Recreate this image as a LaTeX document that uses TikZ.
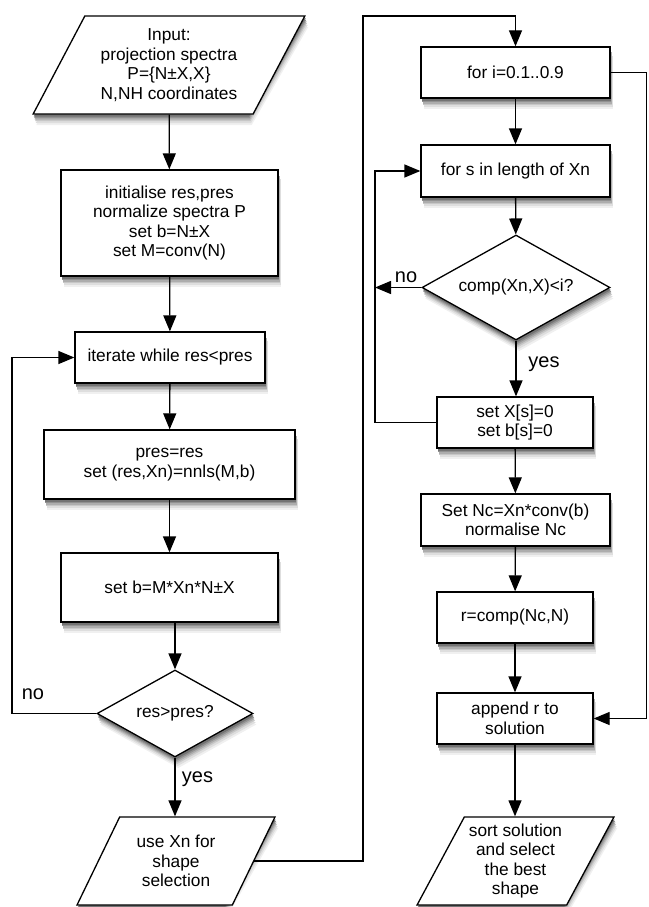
\documentclass[tikz,border=0pt]{standalone}
\usepackage{fontspec}
\setmainfont{Liberation Sans}
\usetikzlibrary{arrows.meta,shapes.geometric}

% one shadow layer: cx, cy, w, h, offset, grey percentage
\newcommand\Rsh[6]{\fill[black!#6] ({#1-#3/2+0.3*#5},{#2-#4/2+#5}) rectangle ({#1+#3/2+0.3*#5},{#2+#4/2+#5});}
\newcommand\Psh[6]{\fill[black!#6] ({#1-#3/2+0.3*#5},{#2+#4/2+#5}) -- ({#1+#3/2-0.5774*#4+0.3*#5},{#2+#4/2+#5}) -- ({#1+#3/2+0.3*#5},{#2-#4/2+#5}) -- ({#1-#3/2+0.5774*#4+0.3*#5},{#2-#4/2+#5}) -- cycle;}
\newcommand\Dsh[6]{\fill[black!#6] ({#1+0.3*#5},{#2-#4/2+#5}) -- ({#1+#3/2+0.3*#5},{#2+#5}) -- ({#1+0.3*#5},{#2+#4/2+#5}) -- ({#1-#3/2+0.3*#5},{#2+#5}) -- cycle;}
\newcommand\Rshad[4]{\Rsh{#1}{#2}{#3}{#4}{11}{6}\Rsh{#1}{#2}{#3}{#4}{9}{13}\Rsh{#1}{#2}{#3}{#4}{7}{22}\Rsh{#1}{#2}{#3}{#4}{5.5}{32}\Rsh{#1}{#2}{#3}{#4}{4}{43}\Rsh{#1}{#2}{#3}{#4}{2.5}{55}}
\newcommand\Pshad[4]{\Psh{#1}{#2}{#3}{#4}{11}{6}\Psh{#1}{#2}{#3}{#4}{9}{13}\Psh{#1}{#2}{#3}{#4}{7}{22}\Psh{#1}{#2}{#3}{#4}{5.5}{32}\Psh{#1}{#2}{#3}{#4}{4}{43}\Psh{#1}{#2}{#3}{#4}{2.5}{55}}
\newcommand\Dshad[4]{\Dsh{#1}{#2}{#3}{#4}{11}{6}\Dsh{#1}{#2}{#3}{#4}{9}{13}\Dsh{#1}{#2}{#3}{#4}{7}{22}\Dsh{#1}{#2}{#3}{#4}{5.5}{32}\Dsh{#1}{#2}{#3}{#4}{4}{43}\Dsh{#1}{#2}{#3}{#4}{2.5}{55}}

\begin{document}
\begin{tikzpicture}[x=1pt,y=-1pt,
  font=\fontsize{17.3}{19.5}\selectfont,
  line width=1.3pt,
  box/.style={draw,fill=white,align=center,inner sep=0pt},
  para/.style={trapezium,trapezium left angle=60,trapezium right angle=120,trapezium stretches=true,draw,fill=white,align=center,inner sep=0pt},
  dia/.style={diamond,draw,fill=white,inner sep=0pt,aspect=1.8},
  arr/.style={-{Triangle[length=16pt,width=13pt]}},
  lbl/.style={font=\fontsize{20}{22}\selectfont}
]
\useasboundingbox (0,0) rectangle (648,907);

% soft shadows (drawn first, under the shapes)
\Pshad{169}{65}{272}{98}
\Rshad{169.5}{223}{217}{106}
\Rshad{170}{357.5}{190}{51}
\Rshad{169.5}{464.5}{251}{69}
\Rshad{169.5}{587.5}{217}{69}
\Dshad{175}{713.5}{156}{87}
\Pshad{176}{861}{198}{88}
\Rshad{515.5}{72.5}{189}{51}
\Rshad{515.5}{171}{189}{52}
\Dshad{516}{287.5}{188}{105}
\Rshad{515}{422.5}{156}{51}
\Rshad{515.5}{520}{189}{52}
\Rshad{515}{617.5}{156}{51}
\Rshad{515}{718.5}{156}{51}
\Pshad{515.5}{861}{197}{88}

% left column
\node[para,minimum width=272pt,minimum height=98pt] (input) at (169,65)
  {Input:\\projection spectra\\P=\{N±X,X\}\\N,NH coordinates};
\node[box,minimum width=217pt,minimum height=106pt] (init) at (169.5,223)
  {initialise res,pres\\normalize spectra P\\set b=N±X\\set M=conv(N)};
\node[box,minimum width=190pt,minimum height=51pt] (iter) at (170,357.5)
  {iterate while res<pres};
\node[box,minimum width=251pt,minimum height=69pt] (pres) at (169.5,464.5)
  {pres=res\\set (res,Xn)=nnls(M,b)};
\node[box,minimum width=217pt,minimum height=69pt] (setb) at (169.5,587.5)
  {set b=M*Xn*N±X};
\node[dia,minimum width=156pt,minimum height=87pt] (dec1) at (175,713.5)
  {res>pres?};
\node[para,minimum width=198pt,minimum height=88pt] (usexn) at (176,861)
  {use Xn for\\shape\\selection};

% right column
\node[box,minimum width=189pt,minimum height=51pt] (fori) at (515.5,72.5)
  {for i=0.1..0.9};
\node[box,minimum width=189pt,minimum height=52pt] (fors) at (515.5,171)
  {for s in length of Xn};
\node[dia,minimum width=188pt,minimum height=105pt] (dec2) at (516,287.5)
  {comp(Xn,X)<i?};
\node[box,minimum width=156pt,minimum height=51pt] (setx) at (515,422.5)
  {set X[s]=0\\set b[s]=0};
\node[box,minimum width=189pt,minimum height=52pt] (setnc) at (515.5,520)
  {Set Nc=Xn*conv(b)\\normalise Nc};
\node[box,minimum width=156pt,minimum height=51pt] (rcomp) at (515,617.5)
  {r=comp(Nc,N)};
\node[box,minimum width=156pt,minimum height=51pt] (append) at (515,718.5)
  {append r to\\solution};
\node[para,minimum width=197pt,minimum height=88pt] (sort) at (515.5,861)
  {sort solution\\and select\\the best\\shape};

% labels
\node[lbl] (no1) at (33,694) {no};
\node[lbl] (yes1) at (197.5,779) {yes};
\node[lbl] (no2) at (406,277) {no};
\node[lbl] (yes2) at (544,364) {yes};

% helper coordinates
\coordinate (lx) at (12,500);
\coordinate (tl) at (363,16);
\coordinate (rx) at (375,300);
\coordinate (tr) at (646.5,400);

% left connectors
\draw[arr] (input) -- (init);
\draw[arr] (init) -- (iter);
\draw[arr] (iter) -- (pres);
\draw[arr] (pres) -- (setb);
\draw[arr] (setb.south -| dec1.north) -- (dec1.north);
\draw[arr] (dec1.south) -- (dec1.south |- usexn.north);
\draw[arr] (dec1.west) -| (lx) |- (iter.west);
\draw[arr] (usexn.east) -| (tl) -| (fori.north);

% right connectors
\draw[arr] (fori) -- (fors);
\draw[arr] (fors) -- (dec2);
\draw[arr] (dec2.south) -- (dec2.south |- setx.north);
\draw[arr] (setx) -- (setnc);
\draw[arr] (setnc) -- (rcomp);
\draw[arr] (rcomp) -- (append);
\draw[arr] (append) -- (append.south |- sort.north);
\draw[arr] (dec2.west) -- (dec2.west -| rx);
\draw[arr] (setx.west) -| (rx) |- (fors.west);
\draw[arr] (fori.east) -| (tr) |- (append.east);
\end{tikzpicture}
\end{document}
